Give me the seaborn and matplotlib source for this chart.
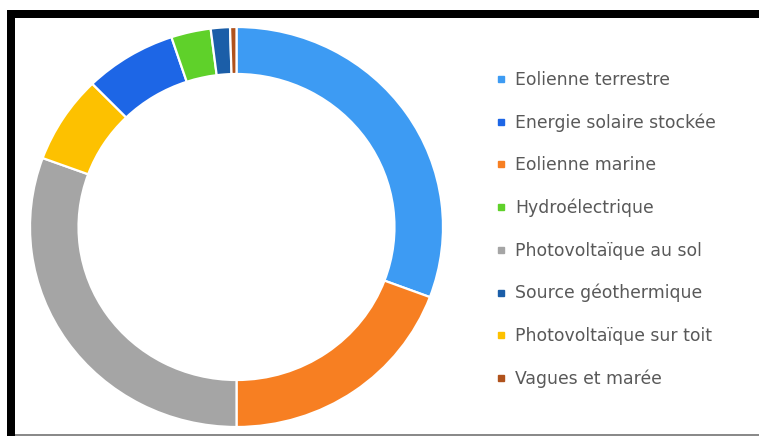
import matplotlib
matplotlib.use("Agg")
import matplotlib.pyplot as plt
from matplotlib.patches import Rectangle
from matplotlib.lines import Line2D
import seaborn as sns

# Share of each renewable source (percent), in drawing order clockwise from 12 o'clock
sources = ["Eolienne terrestre", "Eolienne marine", "Photovoltaïque au sol",
           "Photovoltaïque sur toit", "Energie solaire stockée", "Hydroélectrique",
           "Source géothermique", "Vagues et marée"]
shares = [30.7, 19.3, 30.6, 7.1, 7.2, 3.1, 1.5, 0.5]
colors = ["#3d9bf3", "#f77f22", "#a5a5a5", "#fdc100", "#1d66e6", "#5fd12a",
          "#1b5ea8", "#b0521c"]

# Legend listing order
legend_order = ["Eolienne terrestre", "Energie solaire stockée", "Eolienne marine",
                "Hydroélectrique", "Photovoltaïque au sol", "Source géothermique",
                "Photovoltaïque sur toit", "Vagues et marée"]

sns.set_theme(style="white")
plt.rcParams["font.family"] = ["DejaVu Sans"]

W, H = 759, 436
fig = plt.figure(figsize=(W / 100, H / 100), dpi=100)
fig.patch.set_facecolor("white")

def px(x0, y0, w, h):
    """Pixel box (left, top, width, height) -> figure fraction rect."""
    return [x0 / W, 1 - (y0 + h) / H, w / W, h / H]

# Donut
ax = fig.add_axes(px(30, 27, 413, 400))
ax.pie(shares, colors=colors, startangle=90, counterclock=False,
       wedgeprops=dict(width=0.235, edgecolor="white", linewidth=1.6))
ax.set_aspect("auto")
ax.set_xlim(-1, 1)
ax.set_ylim(-1, 1)
ax.axis("off")

# Legend
color_of = dict(zip(sources, colors))
base0, step = 85, 42.7
for i, name in enumerate(legend_order):
    base = base0 + i * step
    fig.add_artist(Line2D([500.5 / W], [1 - (base - 6) / H], marker="s",
                          markersize=4.3, color=color_of[name], linestyle="none",
                          transform=fig.transFigure))
    fig.text(515 / W, 1 - base / H, name, fontsize=12.4, color="#595959",
             va="baseline", ha="left")

# Frame: thick black top and left edges, thin grey bottom line
fig.add_artist(Rectangle((7 / W, 1 - 18 / H), (W - 7) / W, 8 / H,
                         transform=fig.transFigure, color="black", lw=0))
fig.add_artist(Rectangle((7 / W, 0), 8 / W, 1 - 10 / H,
                         transform=fig.transFigure, color="black", lw=0))
fig.add_artist(Rectangle((15 / W, 0.5 / H), (W - 15) / W, 2 / H,
                         transform=fig.transFigure, color="#8a8a8a", lw=0))

fig.savefig("out.png", dpi=100, facecolor="white")
